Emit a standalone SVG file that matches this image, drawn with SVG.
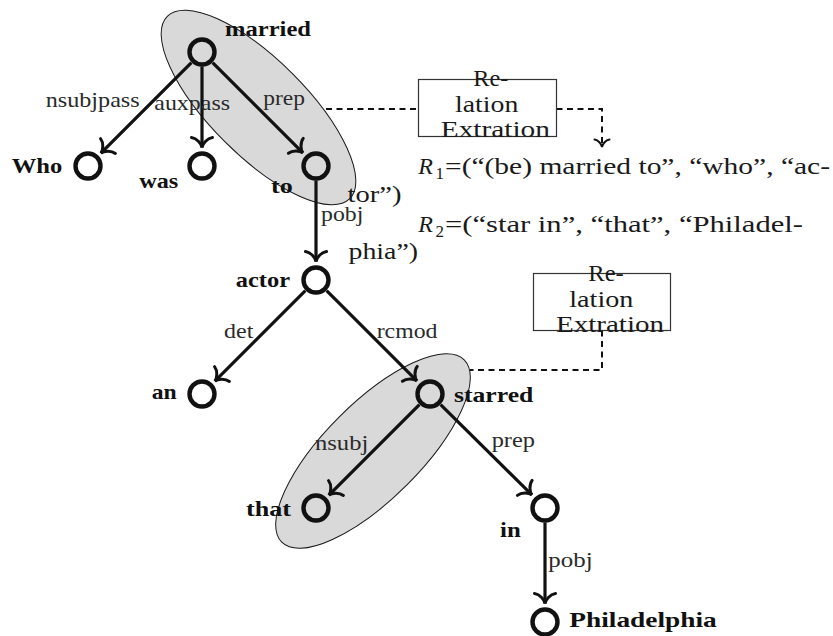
<svg xmlns="http://www.w3.org/2000/svg" width="833" height="636" viewBox="0 0 833 636">
  <style>
    text { font-family: 'Liberation Serif', 'Times New Roman', Tinos, 'DejaVu Serif', serif; }
    .hull { fill: #d9d9d9; stroke: #1a1a1a; stroke-width: 1; }
    .edge { fill: none; stroke: #111; stroke-width: 3.2; marker-end: url(#tip); }
    .dash { fill: none; stroke: #111; stroke-width: 2; stroke-dasharray: 6 4.5; }
    .node circle { fill: none; stroke: #111; stroke-width: 4.4; }
    .node text { font-weight: bold; font-size: 22px; fill: #111; }
    .lbl { font-size: 22px; fill: #2a2a2a; }
    .box rect { fill: none; stroke: #333; stroke-width: 1.2; }
    .txt { font-size: 24px; fill: #1a1a1a; }
    .it { font-style: italic; }
    .sub { font-size: 17px; }
  </style>
  <defs>
    <marker id="tip" markerUnits="userSpaceOnUse" viewBox="-16 -16 32 32" markerWidth="32" markerHeight="32" refX="0" refY="0" orient="auto">
      <path d="M -10,-10.5 C -9.3,-5 -3.5,-0.5 0,0 C -3.5,0.5 -9.3,5 -10,10.5" fill="none" stroke="#111" stroke-width="3" stroke-linecap="round"/>
    </marker>
    <marker id="tipd" markerUnits="userSpaceOnUse" viewBox="-12 -12 24 24" markerWidth="24" markerHeight="24" refX="0" refY="0" orient="auto">
      <path d="M -7.5,-7.5 C -7,-3.5 -2.5,-0.4 0,0 C -2.5,0.4 -7,3.5 -7.5,7.5" fill="none" stroke="#111" stroke-width="2" stroke-linecap="round"/>
    </marker>
  </defs>

  <!-- grouping hulls around the extracted relations -->
  <g id="hulls">
    <ellipse class="hull" cx="258.5" cy="107.5" rx="129" ry="48" transform="rotate(45 258.5 107.5)"/>
    <ellipse class="hull" cx="373" cy="451" rx="129" ry="48" transform="rotate(-45 373 451)"/>
  </g>

  <!-- dependency arcs -->
  <g id="connectors">
    <path class="edge" d="M 191.4,62.6 L 100.9,153.1"/>
    <path class="edge" d="M 202,66.5 L 202,147.5"/>
    <path class="edge" d="M 212.6,62.6 L 302.9,152.9"/>
    <path class="edge" d="M 316,180.5 L 316,261.5"/>
    <path class="edge" d="M 305.4,290.6 L 214.9,381.1"/>
    <path class="edge" d="M 326.6,290.6 L 416.9,380.9"/>
    <path class="edge" d="M 419.4,404.6 L 328.9,495.1"/>
    <path class="edge" d="M 440.6,404.6 L 531.9,494.9"/>
    <path class="edge" d="M 545,522.5 L 545,603.5"/>

    <path class="dash" d="M 326,109 H 418.5"/>
    <path class="dash" d="M 556.5,109 H 602 V 147" marker-end="url(#tipd)"/>
    <path class="dash" d="M 602,330.5 V 370 H 470"/>
  </g>

  <!-- arc labels -->
  <g id="arc-labels">
    <text class="lbl" x="45.7" y="107" textLength="94" lengthAdjust="spacingAndGlyphs">nsubjpass</text>
    <text class="lbl" x="154.3" y="110" textLength="75.7" lengthAdjust="spacingAndGlyphs">auxpass</text>
    <text class="lbl" x="263.3" y="105" textLength="41.7" lengthAdjust="spacingAndGlyphs">prep</text>
    <text class="lbl" x="321" y="221" textLength="42.3" lengthAdjust="spacingAndGlyphs">pobj</text>
    <text class="lbl" x="224" y="338.3" textLength="29.3" lengthAdjust="spacingAndGlyphs">det</text>
    <text class="lbl" x="376.7" y="338.3" textLength="60.7" lengthAdjust="spacingAndGlyphs">rcmod</text>
    <text class="lbl" x="315" y="450" textLength="53.3" lengthAdjust="spacingAndGlyphs">nsubj</text>
    <text class="lbl" x="491.7" y="446.7" textLength="43.3" lengthAdjust="spacingAndGlyphs">prep</text>
    <text class="lbl" x="548.3" y="566.7" textLength="44.3" lengthAdjust="spacingAndGlyphs">pobj</text>
  </g>

  <!-- words of the sentence -->
  <g id="married" class="node">
    <circle cx="202" cy="52" r="12.5"/>
    <text x="225" y="35.5" textLength="86" lengthAdjust="spacingAndGlyphs">married</text>
  </g>
  <g id="who" class="node">
    <circle cx="88" cy="166" r="12.5"/>
    <text x="11.7" y="172.7" textLength="50.6" lengthAdjust="spacingAndGlyphs">Who</text>
  </g>
  <g id="was" class="node">
    <circle cx="202" cy="166" r="12.5"/>
    <text x="139.3" y="188.3" textLength="39" lengthAdjust="spacingAndGlyphs">was</text>
  </g>
  <g id="to" class="node">
    <circle cx="316" cy="166" r="12.5"/>
    <text x="271" y="193.3" textLength="21.7" lengthAdjust="spacingAndGlyphs">to</text>
  </g>
  <g id="actor" class="node">
    <circle cx="316" cy="280" r="12.5"/>
    <text x="235.7" y="286.7" textLength="54.3" lengthAdjust="spacingAndGlyphs">actor</text>
  </g>
  <g id="an" class="node">
    <circle cx="202" cy="394" r="12.5"/>
    <text x="151.7" y="399" textLength="25" lengthAdjust="spacingAndGlyphs">an</text>
  </g>
  <g id="starred" class="node">
    <circle cx="430" cy="394" r="12.5"/>
    <text x="454" y="401.7" textLength="79.3" lengthAdjust="spacingAndGlyphs">starred</text>
  </g>
  <g id="that" class="node">
    <circle cx="316" cy="508" r="12.5"/>
    <text x="246" y="515.7" textLength="45" lengthAdjust="spacingAndGlyphs">that</text>
  </g>
  <g id="in" class="node">
    <circle cx="545" cy="508" r="12.5"/>
    <text x="500" y="536.7" textLength="20.7" lengthAdjust="spacingAndGlyphs">in</text>
  </g>
  <g id="philadelphia" class="node">
    <circle cx="545" cy="622" r="12.5"/>
    <text x="569.3" y="626.7" textLength="147.4" lengthAdjust="spacingAndGlyphs">Philadelphia</text>
  </g>

  <!-- extraction boxes -->
  <g id="extract-1" class="box">
    <rect x="418.5" y="79.5" width="138" height="57"/>
    <text class="txt" x="473.3" y="86" textLength="35" lengthAdjust="spacingAndGlyphs">Re-</text>
    <text class="txt" x="455" y="112" textLength="63.3" lengthAdjust="spacingAndGlyphs">lation</text>
    <text class="txt" x="440.7" y="137" textLength="109.3" lengthAdjust="spacingAndGlyphs">Extration</text>
  </g>
  <g id="extract-2" class="box">
    <rect x="533.5" y="273.5" width="137" height="57"/>
    <text class="txt" x="588.3" y="280.5" textLength="35.5" lengthAdjust="spacingAndGlyphs">Re-</text>
    <text class="txt" x="569.3" y="306.5" textLength="64" lengthAdjust="spacingAndGlyphs">lation</text>
    <text class="txt" x="556" y="331.5" textLength="108" lengthAdjust="spacingAndGlyphs">Extration</text>
  </g>

  <!-- extracted relation tuples -->
  <g id="relations">
    <text class="txt it" x="418.3" y="174">R</text>
    <text class="txt sub" x="435.5" y="178.5">1</text>
    <text class="txt" x="445" y="174" textLength="385" lengthAdjust="spacingAndGlyphs">=(“(be) married to”, “who”, “ac-</text>
    <text class="txt" x="347.5" y="202" textLength="54" lengthAdjust="spacingAndGlyphs">tor”)</text>
    <text class="txt it" x="418.3" y="232">R</text>
    <text class="txt sub" x="435.5" y="236.5">2</text>
    <text class="txt" x="445" y="232" textLength="358" lengthAdjust="spacingAndGlyphs">=(“star in”, “that”, “Philadel-</text>
    <text class="txt" x="348.5" y="259" textLength="69.5" lengthAdjust="spacingAndGlyphs">phia”)</text>
  </g>
</svg>
